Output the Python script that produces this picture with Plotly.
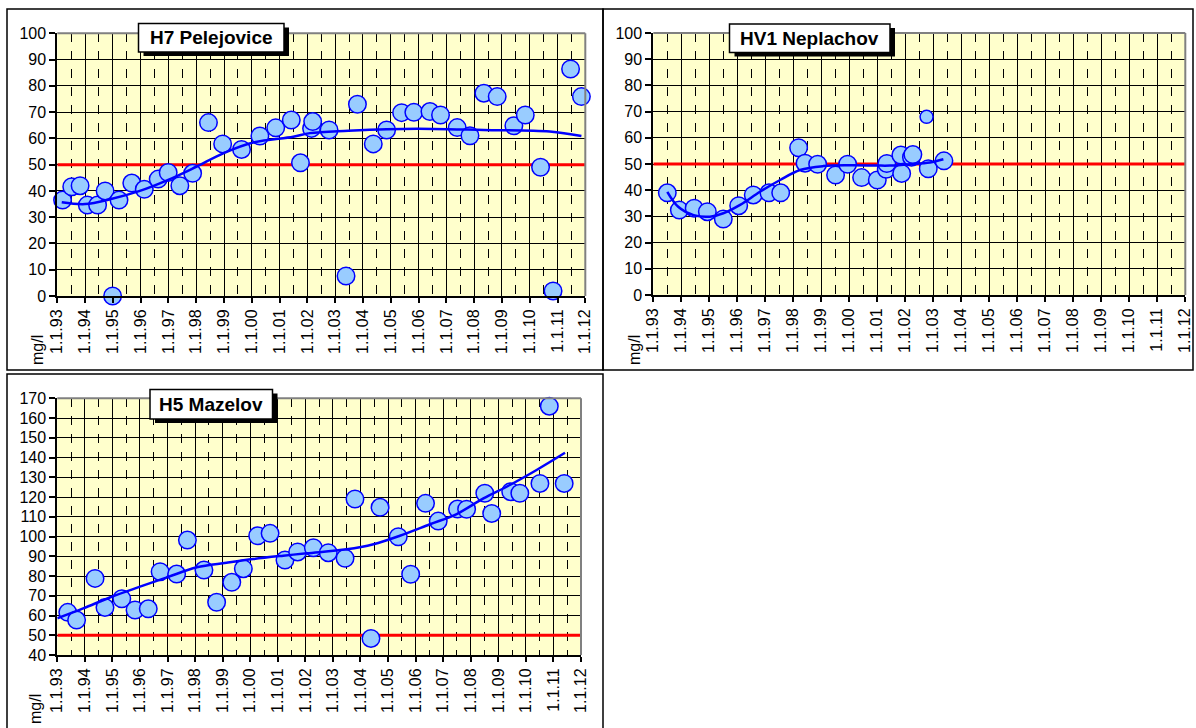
import plotly.graph_objects as go

W, H = 1196, 728

# ---------------- data ----------------
years = list(range(1993, 2013))
year_labels = ["1.1.%02d" % (y % 100) for y in years]
half_years = [y + 0.5 for y in range(1993, 2012)]
limit = 50

h7_x = [1993.19, 1993.52, 1993.82, 1994.08, 1994.45, 1994.72, 1994.99, 1995.22, 1995.68, 1996.13,
        1996.63, 1996.99, 1997.41, 1997.87, 1998.44, 1998.95, 1999.63, 2000.29, 2000.86, 2001.42,
        2001.75, 2002.15, 2002.19, 2002.78, 2003.39, 2003.80, 2004.37, 2004.85, 2005.39, 2005.83,
        2006.41, 2006.79, 2007.39, 2007.85, 2008.35, 2008.83, 2009.43, 2009.84, 2010.39, 2010.84,
        2011.47, 2011.86]
h7_y = [36.5, 41.6, 42.0, 34.6, 34.6, 40.0, 0.0, 36.5, 43.0, 40.6,
        44.5, 47.0, 42.0, 46.7, 66.0, 57.9, 55.8, 60.9, 64.0, 67.0,
        50.7, 63.8, 66.4, 63.2, 7.6, 73.0, 57.9, 63.2, 69.8, 69.9,
        70.2, 68.9, 64.1, 61.0, 77.2, 75.9, 64.8, 68.9, 49.0, 1.9,
        86.4, 75.9]
h7_trend_x = [1993.16, 1994.0, 1994.9, 1995.97, 1996.99, 1998.0, 1998.97, 2000.05, 2001.49,
              2002.09, 2003.47, 2004.85, 2006.53, 2008.33, 2010.72, 2011.86]
h7_trend_y = [35.7, 35.0, 36.8, 40.0, 44.2, 49.2, 54.3, 58.4, 60.6,
              62.0, 62.9, 63.5, 63.6, 63.2, 62.6, 60.9]

hv1_x = [1993.50, 1993.93, 1994.46, 1994.93, 1995.50, 1996.05, 1996.57, 1997.13, 1997.55, 1998.19,
         1998.42, 1998.87, 1999.51, 1999.94, 2000.44, 2001.00, 2001.32, 2001.34, 2001.84, 2001.87,
         2002.22, 2002.27, 2002.82, 2003.38]
hv1_y = [39.0, 32.4, 33.1, 31.8, 29.0, 34.1, 38.2, 39.0, 39.0, 56.2,
         50.3, 49.9, 45.8, 49.9, 44.8, 43.9, 48.0, 50.2, 53.4, 46.4,
         52.6, 53.6, 48.2, 51.2]
hv1_extra_x = [2002.76]
hv1_extra_y = [68.0]
hv1_trend_x = [1993.50, 1993.89, 1994.44, 1995.02, 1995.50, 1996.10, 1996.81, 1997.53, 1998.24,
               1999.07, 2000.03, 2000.98, 2001.45, 2002.17, 2002.88, 2003.36]
hv1_trend_y = [39.4, 33.7, 30.5, 29.9, 31.2, 34.4, 39.4, 43.9, 47.7,
               49.2, 49.5, 49.4, 49.4, 49.9, 50.6, 51.8]

h5_x = [1993.38, 1993.70, 1994.37, 1994.73, 1995.34, 1995.82, 1996.30, 1996.73, 1997.33, 1997.72,
        1998.32, 1998.78, 1999.33, 1999.75, 2000.27, 2000.72, 2001.26, 2001.72, 2002.29, 2002.83,
        2003.44, 2003.80, 2004.38, 2004.71, 2005.37, 2005.82, 2006.36, 2006.82, 2007.52, 2007.85,
        2008.51, 2008.76, 2009.45, 2009.78, 2010.51, 2010.85, 2011.39]
h5_y = [61.6, 57.7, 78.8, 64.1, 68.5, 62.8, 63.4, 82.2, 81.0, 98.2,
        83.0, 66.7, 76.8, 83.7, 100.4, 101.6, 88.1, 92.2, 94.3, 91.8,
        89.0, 119.0, 48.4, 114.8, 99.9, 80.9, 116.8, 107.8, 113.9, 113.8,
        121.9, 111.7, 122.7, 121.9, 126.9, 166.0, 126.9]
h5_trend_x = [1993.0, 1993.94, 1994.97, 1996.0, 1997.03, 1998.06, 1999.14, 2000.11, 2001.2,
              2002.05, 2003.5, 2004.47, 2005.43, 2006.52, 2007.49, 2008.46, 2009.42, 2010.39, 2011.42]
h5_trend_y = [58.6, 63.6, 69.5, 74.6, 79.6, 84.4, 86.7, 88.6, 90.3,
              91.5, 93.5, 96.1, 100.4, 106.2, 111.4, 119.3, 126.1, 133.7, 142.4]

titles = ["H7 Pelejovice", "HV1 Neplachov", "H5 Mazelov"]
unit = "mg/l"

# ---------------- styling ----------------
FONT = "Liberation Sans, Arial, sans-serif"
BLUE = "#0000FF"
FILL = "#99CCFF"
RED = "#FF0000"
BG = "#FFFFCC"


def px_x(p):
    return p / W


def px_y(p):
    return 1 - p / H


fig = go.Figure()

panels = [
    dict(xs=h7_x, ys=h7_y, tx=h7_trend_x, ty=h7_trend_y, ax="x", ay="y"),
    dict(xs=hv1_x, ys=hv1_y, tx=hv1_trend_x, ty=hv1_trend_y, ax="x2", ay="y2"),
    dict(xs=h5_x, ys=h5_y, tx=h5_trend_x, ty=h5_trend_y, ax="x3", ay="y3"),
]

for i, p in enumerate(panels):
    fig.add_trace(go.Scatter(x=[years[0], years[-1]], y=[limit, limit], mode="lines",
                             line=dict(color=RED, width=3), xaxis=p["ax"], yaxis=p["ay"],
                             hoverinfo="skip", showlegend=False, cliponaxis=False))
    fig.add_trace(go.Scatter(x=p["xs"], y=p["ys"], mode="markers",
                             marker=dict(size=17.5, color=FILL, line=dict(color=BLUE, width=1.5)),
                             xaxis=p["ax"], yaxis=p["ay"], showlegend=False, cliponaxis=False))
    if i == 1:
        fig.add_trace(go.Scatter(x=hv1_extra_x, y=hv1_extra_y, mode="markers",
                                 marker=dict(size=13, color=FILL, line=dict(color=BLUE, width=1.5)),
                                 xaxis=p["ax"], yaxis=p["ay"], showlegend=False, cliponaxis=False))
    fig.add_trace(go.Scatter(x=p["tx"], y=p["ty"], mode="lines", line_shape="spline",
                             line=dict(color=BLUE, width=2.5),
                             xaxis=p["ax"], yaxis=p["ay"], showlegend=False, cliponaxis=False))

# domains in pixels: (x0, x1, ytop, ybottom)
doms = [
    (57.3, 585.3, 33.3, 296.0),
    (653.3, 1185.3, 33.0, 295.0),
    (57.3, 581.0, 398.3, 655.0),
]
yranges = [(0, 100), (0, 100), (40, 170)]

layout = dict(
    width=W, height=H, margin=dict(l=0, r=0, t=0, b=0, pad=0, autoexpand=False),
    paper_bgcolor="white", plot_bgcolor=BG, showlegend=False,
    font=dict(family=FONT, color="black", size=14),
)

for i, (d, yr) in enumerate(zip(doms, yranges)):
    sx = "" if i == 0 else str(i + 1)
    layout["xaxis" + sx] = dict(
        domain=[px_x(d[0]), px_x(d[1])], anchor="y" + sx, range=[1993, 2012],
        tickmode="array", tickvals=years, ticktext=year_labels, tickangle=-90,
        tickfont=dict(family=FONT, size=16, color="black"),
        showgrid=True, gridcolor="black", gridwidth=1.4,
        showline=True, linecolor="black", linewidth=2,
        ticks="outside", ticklen=5, tickcolor="black", tickwidth=1.5,
        minor=dict(tickmode="array", tickvals=half_years, showgrid=True, gridcolor="black",
                   griddash="dash", gridwidth=1, ticks=""),
        zeroline=False, fixedrange=True, automargin=False,
    )
    layout["yaxis" + sx] = dict(
        domain=[px_y(d[3]), px_y(d[2])], anchor="x" + sx, range=list(yr),
        tickmode="linear", tick0=yr[0], dtick=10,
        tickfont=dict(family=FONT, size=16, color="black"),
        showgrid=True, gridcolor="black", gridwidth=1.4,
        showline=True, linecolor="black", linewidth=2,
        ticks="outside", ticklen=6, tickcolor="black", tickwidth=1.5,
        zeroline=False, fixedrange=True, automargin=False,
    )

fig.update_layout(**layout)

shapes = []
# plot-area grey border (top and right)
for i in range(3):
    sx = "" if i == 0 else str(i + 1)
    shapes.append(dict(type="line", xref="x" + sx + " domain", yref="y" + sx + " domain",
                       x0=0, x1=1, y0=1, y1=1, line=dict(color="#808080", width=2)))
    shapes.append(dict(type="line", xref="x" + sx + " domain", yref="y" + sx + " domain",
                       x0=1, x1=1, y0=0, y1=1, line=dict(color="#808080", width=2)))

# outer panel frames
frames = [(7, 9, 603, 370), (603, 9, 1193, 370), (7, 374, 603, 740)]
for (x0, y0, x1, y1) in frames:
    shapes.append(dict(type="rect", xref="paper", yref="paper",
                       x0=px_x(x0), x1=px_x(x1), y0=px_y(y1), y1=px_y(y0),
                       line=dict(color="black", width=1.5), fillcolor="rgba(0,0,0,0)"))

# title boxes (x0, y0, x1, y1) in px
tboxes = [(138.5, 23.5, 284, 52), (729.5, 24, 890, 52.5), (150, 389.5, 272.5, 419)]
annotations = []
for (x0, y0, x1, y1), t in zip(tboxes, titles):
    shapes.append(dict(type="rect", xref="paper", yref="paper",
                       x0=px_x(x0 + 5), x1=px_x(x1 + 5), y0=px_y(y1 + 4), y1=px_y(y0 + 4),
                       line=dict(width=0), fillcolor="black"))
    shapes.append(dict(type="rect", xref="paper", yref="paper",
                       x0=px_x(x0), x1=px_x(x1), y0=px_y(y1), y1=px_y(y0),
                       line=dict(color="black", width=1.5), fillcolor="white"))
    annotations.append(dict(xref="paper", yref="paper", x=px_x((x0 + x1) / 2), y=px_y((y0 + y1) / 2),
                            text="<b>%s</b>" % t, showarrow=False, xanchor="center", yanchor="middle",
                            font=dict(family=FONT, size=19, color="black")))

# unit labels
for (cx, cy) in [(37, 350), (634, 350), (35, 709)]:
    annotations.append(dict(xref="paper", yref="paper", x=px_x(cx), y=px_y(cy), text=unit,
                            showarrow=False, textangle=-90, xanchor="center", yanchor="middle",
                            font=dict(family=FONT, size=16, color="black")))

fig.update_layout(shapes=shapes, annotations=annotations)
fig.write_html("out.html")
